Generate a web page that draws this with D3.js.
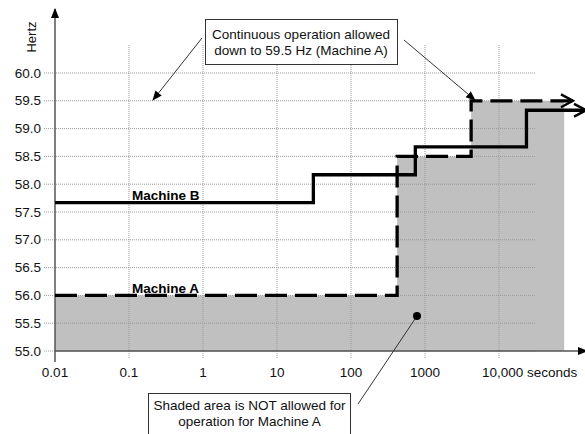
<!DOCTYPE html>
<html>
<head>
<meta charset="utf-8">
<script src="https://cdn.jsdelivr.net/npm/d3@7"></script>
<style>
  body { margin: 0; background: #fff; }
  svg text { font-family: "Liberation Sans", Arial, sans-serif; }
</style>
</head>
<body>
<div id="chart"></div>
<script>
// x ticks (seconds, log scale) and y ticks (Hz)
var xTicks = [0.01, 0.1, 1, 10, 100, 1000, 10000];
var xTickLabels = ["0.01", "0.1", "1", "10", "100", "1000", "10,000 seconds"];
var yTicks = [55.0, 55.5, 56.0, 56.5, 57.0, 57.5, 58.0, 58.5, 59.0, 59.5, 60.0];

// Machine A limit (step after), dashed
var machineATime = [0.01, 420, 4200, 100000];
var machineAHz   = [56.0, 58.5, 59.5, 59.5];
// shaded area ends here
var shadeEnd = 76000;

// Machine B limit (step after), solid
var machineBTime = [0.01, 31, 740, 23500, 150000];
var machineBHz   = [57.67, 58.17, 58.67, 59.33, 59.33];

var W = 585, H = 434;

var svg = d3.select("#chart").append("svg")
    .attr("width", W).attr("height", H);

var defs = svg.append("defs");
defs.append("marker")
    .attr("id", "chev")
    .attr("viewBox", "0 0 20 20")
    .attr("refX", 17).attr("refY", 10)
    .attr("markerWidth", 16).attr("markerHeight", 16)
    .attr("markerUnits", "userSpaceOnUse")
    .attr("orient", "auto")
  .append("path")
    .attr("d", "M2,2 L17,10 L2,18")
    .attr("fill", "none").attr("stroke", "#000").attr("stroke-width", 3);
defs.append("marker")
    .attr("id", "tri")
    .attr("viewBox", "0 0 10 10")
    .attr("refX", 9).attr("refY", 5)
    .attr("markerWidth", 10).attr("markerHeight", 10)
    .attr("markerUnits", "userSpaceOnUse")
    .attr("orient", "auto")
  .append("path")
    .attr("d", "M0,1 L10,5 L0,9 Z")
    .attr("fill", "#000");

var x = d3.scaleLog().domain([0.01, 10000]).range([55, 499]);
var y = d3.scaleLinear().domain([55, 60]).range([351, 73]);

// shaded area below Machine A
var shadeData = machineATime.map(function(t, i){ return {t: Math.min(t, shadeEnd), v: machineAHz[i]}; });
svg.append("path")
    .datum(shadeData)
    .attr("fill", "#c0c0c0")
    .attr("d", d3.area()
        .x(function(d){ return x(d.t); })
        .y0(y(55))
        .y1(function(d){ return y(d.v); })
        .curve(d3.curveStepAfter));

// grid
var grid = svg.append("g");
grid.selectAll("line.h").data(yTicks).enter().append("line")
    .attr("x1", 44).attr("x2", 535)
    .attr("y1", function(d){ return y(d); }).attr("y2", function(d){ return y(d); })
    .attr("stroke", "#999").attr("stroke-width", 1).attr("stroke-dasharray", "1,1");
grid.selectAll("line.v").data(xTicks.slice(1)).enter().append("line")
    .attr("x1", function(d){ return x(d); }).attr("x2", function(d){ return x(d); })
    .attr("y1", 45).attr("y2", 359)
    .attr("stroke", "#999").attr("stroke-width", 1).attr("stroke-dasharray", "1,1");

// axes
svg.append("line")
    .attr("x1", x(0.01)).attr("x2", x(0.01))
    .attr("y1", 362).attr("y2", 9)
    .attr("stroke", "#555").attr("stroke-width", 1.5)
    .attr("marker-end", "url(#tri)");
svg.append("line")
    .attr("x1", x(0.01)).attr("x2", 587)
    .attr("y1", y(55)).attr("y2", y(55))
    .attr("stroke", "#555").attr("stroke-width", 1.5)
    .attr("marker-end", "url(#tri)");

// tick labels
svg.selectAll("text.yl").data(yTicks).enter().append("text")
    .attr("x", 41).attr("y", function(d){ return y(d) + 4.5; })
    .attr("text-anchor", "end").attr("font-size", 13.5).attr("fill", "#111")
    .text(function(d){ return d3.format(".1f")(d); });
svg.selectAll("text.xl").data(xTicks).enter().append("text")
    .attr("x", function(d, i){ return i === xTicks.length - 1 ? x(d) - 17 : x(d); })
    .attr("y", 377)
    .attr("text-anchor", function(d, i){ return i === xTicks.length - 1 ? "start" : "middle"; })
    .attr("font-size", 13.5).attr("fill", "#111")
    .text(function(d, i){ return xTickLabels[i]; });

svg.append("text")
    .attr("transform", "translate(36,37) rotate(-90)")
    .attr("text-anchor", "middle").attr("font-size", 13).attr("fill", "#111")
    .text("Hertz");

// Machine A dashed step line
var lineGen = d3.line()
    .x(function(d){ return x(d.t); })
    .y(function(d){ return y(d.v); })
    .curve(d3.curveStepAfter);
svg.append("path")
    .datum(machineATime.map(function(t, i){ return {t: t, v: machineAHz[i]}; }))
    .attr("fill", "none").attr("stroke", "#000").attr("stroke-width", 3.3)
    .attr("stroke-dasharray", "22,8")
    .attr("marker-end", "url(#chev)")
    .attr("d", lineGen);

// Machine B solid step line
svg.append("path")
    .datum(machineBTime.map(function(t, i){ return {t: t, v: machineBHz[i]}; }))
    .attr("fill", "none").attr("stroke", "#000").attr("stroke-width", 3.3)
    .attr("marker-end", "url(#chev)")
    .attr("d", lineGen);

svg.append("text")
    .attr("x", 132).attr("y", 200)
    .attr("font-size", 13.5).attr("font-weight", "bold")
    .text("Machine B");
svg.append("text")
    .attr("x", 132).attr("y", 293)
    .attr("font-size", 13.5).attr("font-weight", "bold")
    .text("Machine A");

// callout boxes
function box(x0, y0, w, h, lines, cx, by){
    svg.append("rect")
        .attr("x", x0).attr("y", y0).attr("width", w).attr("height", h)
        .attr("fill", "#fff").attr("stroke", "#333").attr("stroke-width", 1);
    lines.forEach(function(s, i){
        svg.append("text")
            .attr("x", cx).attr("y", by + i * 16)
            .attr("text-anchor", "middle").attr("font-size", 13.5).attr("fill", "#111")
            .text(s);
    });
}
box(205.5, 19.5, 192, 45, ["Continuous operation allowed", "down to 59.5 Hz (Machine A)"], 301, 39);
box(148.5, 393.5, 202, 50, ["Shaded area is NOT allowed for", "operation for Machine A"], 249.5, 410);

// pointer arrows
svg.append("line")
    .attr("x1", 202).attr("y1", 38).attr("x2", 153).attr("y2", 100)
    .attr("stroke", "#333").attr("stroke-width", 1)
    .attr("marker-end", "url(#tri)");
svg.append("line")
    .attr("x1", 404).attr("y1", 40).attr("x2", 475).attr("y2", 100)
    .attr("stroke", "#333").attr("stroke-width", 1)
    .attr("marker-end", "url(#tri)");
svg.append("line")
    .attr("x1", 358).attr("y1", 404).attr("x2", 417).attr("y2", 316)
    .attr("stroke", "#333").attr("stroke-width", 1);
svg.append("circle")
    .attr("cx", 417).attr("cy", 316).attr("r", 4).attr("fill", "#000");
</script>
</body>
</html>
